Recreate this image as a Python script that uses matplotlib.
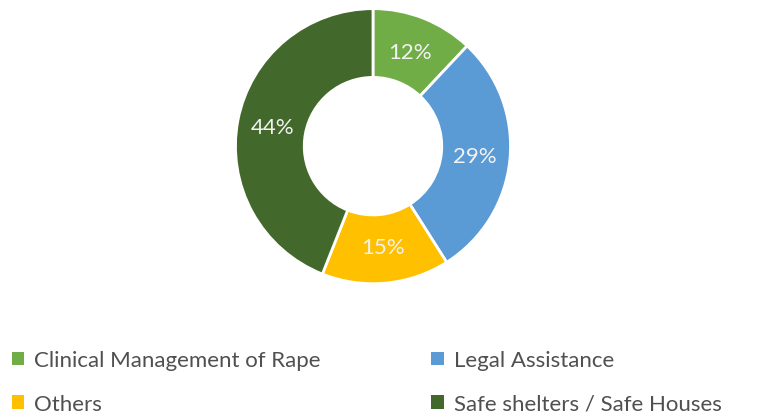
import matplotlib.pyplot as plt
from matplotlib.patches import Patch

plt.rcParams['font.family'] = ['Lato', 'DejaVu Sans']

categories = ["Clinical Management of Rape", "Legal Assistance", "Others", "Safe shelters / Safe Houses"]
shares = [12, 29, 15, 44]
colors = ["#70AD47", "#5B9BD5", "#FFC000", "#43682B"]

fig = plt.figure(figsize=(7.62, 4.14), dpi=100)
ax = fig.add_axes([0.307, 0.309, 0.365, 0.671])

wedges, texts, autotexts = ax.pie(
    shares, colors=colors, startangle=90, counterclock=False,
    wedgeprops=dict(width=0.5, edgecolor="white", linewidth=2),
    autopct=lambda p: f"{p:.0f}%", pctdistance=0.74,
    textprops=dict(color="#F2F2F2", fontsize=16),
)
ax.set_xlim(-1.01, 1.01)
ax.set_ylim(-1.01, 1.01)
ax.set_aspect("equal")

# legend is row-major in the reference, matplotlib fills columns first
order = [0, 2, 1, 3]
handles = [Patch(facecolor=colors[i]) for i in order]
labels = [categories[i] for i in order]
fig.legend(handles, labels, ncol=2, loc="lower left", bbox_to_anchor=(-0.011, -0.05),
           frameon=False, fontsize=16, handlelength=0.55, handleheight=0.55,
           handletextpad=0.45, columnspacing=5.0, labelspacing=1.05,
           labelcolor="#505050")

fig.savefig("out.png", dpi=100)
